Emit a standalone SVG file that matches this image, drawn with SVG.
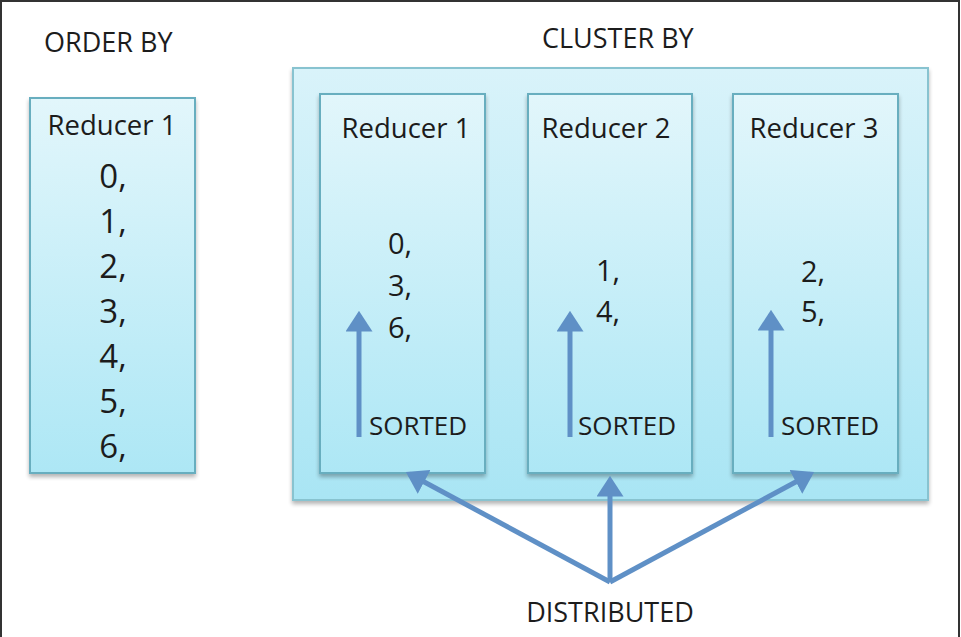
<svg xmlns="http://www.w3.org/2000/svg" width="961" height="637" viewBox="0 0 961 637">
<defs>
<linearGradient id="gBox" x1="0" y1="0" x2="0" y2="1">
<stop offset="0" stop-color="#e2f6fb"/>
<stop offset="1" stop-color="#ade7f5"/>
</linearGradient>
<linearGradient id="gOuter" x1="0" y1="0" x2="0" y2="1">
<stop offset="0" stop-color="#d9f3fa"/>
<stop offset="1" stop-color="#a9e5f4"/>
</linearGradient>
<filter id="sh" x="-10%" y="-10%" width="120%" height="120%">
<feGaussianBlur in="SourceAlpha" stdDeviation="2"/>
<feOffset dx="0" dy="3" result="b"/>
<feComponentTransfer><feFuncA type="linear" slope="0.3"/></feComponentTransfer>
<feMerge><feMergeNode/><feMergeNode in="SourceGraphic"/></feMerge>
</filter>
<marker id="ah" viewBox="0 0 20 26" refX="16" refY="13" markerWidth="21" markerHeight="27" markerUnits="userSpaceOnUse" orient="auto">
<path d="M0,0 L20,13 L0,26 Z" fill="#5f90c6"/>
</marker>
</defs>
<style>
text{font-family:"Open Sans","Liberation Sans",Arial,sans-serif;fill:#1c1c1c;font-weight:500;}
.title{font-size:27px;}
.lbl{font-size:27.5px;text-anchor:middle;}
.num{font-size:33px;text-anchor:middle;}
.num2{font-size:29px;}
.sorted{font-size:26px;}
.box{fill:url(#gBox);stroke:#68aebf;stroke-width:2;filter:url(#sh);}
.outer{fill:url(#gOuter);stroke:#88c3d0;stroke-width:2;filter:url(#sh);}
.arr{stroke:#5f90c6;stroke-width:5;fill:none;marker-end:url(#ah);}
</style>
<rect x="0" y="0" width="961" height="637" fill="#ffffff"/>
<path d="M1,637 L1,1 L959,1 L959,637" fill="none" stroke="#333" stroke-width="2"/>

<text class="title" x="44" y="52">ORDER BY</text>
<text class="title" x="542" y="48">CLUSTER BY</text>

<g id="order-reducer1">
<rect class="box" x="30" y="98" width="165" height="375"/>
<text class="lbl" x="112" y="135">Reducer 1</text>
<text class="num" x="113" y="188">0,</text>
<text class="num" x="113" y="233">1,</text>
<text class="num" x="113" y="278">2,</text>
<text class="num" x="113" y="323">3,</text>
<text class="num" x="113" y="368">4,</text>
<text class="num" x="113" y="413">5,</text>
<text class="num" x="113" y="458">6,</text>
</g>

<g id="cluster">
<rect class="outer" x="293" y="68" width="635" height="432"/>
</g>

<g id="cluster-reducer1">
<rect class="box" x="320" y="94" width="165" height="379"/>
<text class="lbl" x="406" y="138">Reducer 1</text>
<text class="num2" x="388" y="254">0,</text>
<text class="num2" x="388" y="296">3,</text>
<text class="num2" x="388" y="338">6,</text>
<text class="sorted" x="369" y="435">SORTED</text>
</g>

<g id="cluster-reducer2">
<rect class="box" x="528" y="94" width="164" height="379"/>
<text class="lbl" x="606" y="138">Reducer 2</text>
<text class="num2" x="596" y="281">1,</text>
<text class="num2" x="596" y="322">4,</text>
<text class="sorted" x="578" y="435">SORTED</text>
</g>

<g id="cluster-reducer3">
<rect class="box" x="733" y="94" width="165" height="379"/>
<text class="lbl" x="814" y="138">Reducer 3</text>
<text class="num2" x="801" y="282">2,</text>
<text class="num2" x="801" y="322">5,</text>
<text class="sorted" x="781" y="435">SORTED</text>
</g>

<g id="connectors">
<line class="arr" x1="359" y1="437" x2="359" y2="315"/>
<line class="arr" x1="570" y1="437" x2="570" y2="315"/>
<line class="arr" x1="771" y1="437" x2="771" y2="314"/>
<line class="arr" x1="610" y1="582" x2="409.5" y2="474"/>
<line class="arr" x1="610" y1="582" x2="610" y2="480"/>
<line class="arr" x1="610" y1="582" x2="810.5" y2="474"/>
</g>

<text class="title" x="610" y="622" text-anchor="middle">DISTRIBUTED</text>
</svg>
